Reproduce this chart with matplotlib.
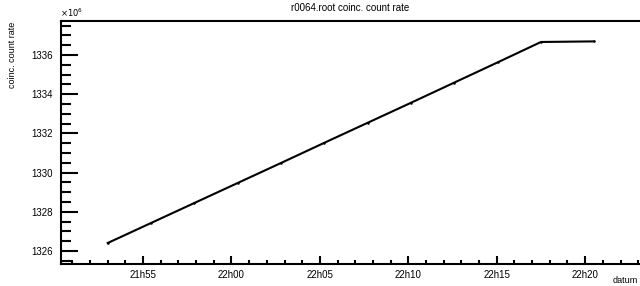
import matplotlib
matplotlib.use("Agg")
import matplotlib.pyplot as plt
from matplotlib.ticker import MultipleLocator, FuncFormatter

plt.rcParams['font.family'] = ['Liberation Sans', 'DejaVu Sans']

# datos (valores en unidades de 10^6)
tiempos = ["21:53:00", "21:55:27", "21:57:54", "22:00:21", "22:02:48", "22:05:15",
           "22:07:42", "22:10:09", "22:12:36", "22:15:03", "22:17:30", "22:20:30"]
tasa = [1326.41, 1327.43, 1328.45, 1329.47, 1330.49, 1331.52,
        1332.54, 1333.56, 1334.59, 1335.62, 1336.66, 1336.69]


def a_minutos(t):
    h, m, s = t.split(":")
    return int(h) * 60 + int(m) + int(s) / 60.0


x = [a_minutos(t) for t in tiempos]

fig = plt.figure(figsize=(6.4, 2.86), dpi=100)
ax = fig.add_axes([0.0953, 0.0769, 0.9047, 0.8497])

ax.plot(x, tasa, color='black', lw=1.5, marker='o', ms=0.8)

ax.set_xlim(21 * 60 + 50.36, 22 * 60 + 23.1)
ax.set_ylim(1325.34, 1337.73)

ax.xaxis.set_major_locator(MultipleLocator(5))
ax.xaxis.set_minor_locator(MultipleLocator(1))
ax.yaxis.set_major_locator(MultipleLocator(2))
ax.yaxis.set_minor_locator(MultipleLocator(0.5))
ax.xaxis.set_major_formatter(FuncFormatter(lambda v, p: "%dh%02d" % (int(round(v)) // 60, int(round(v)) % 60)))
ax.yaxis.set_major_formatter(FuncFormatter(lambda v, p: "%d" % round(v)))

ax.tick_params(axis='y', which='major', direction='in', length=12, width=1.5, labelsize=7, pad=6)
ax.tick_params(axis='y', which='minor', direction='in', length=7, width=1.5)
ax.tick_params(axis='x', which='major', direction='in', length=6, width=1.5, labelsize=7, pad=4)
ax.tick_params(axis='x', which='minor', direction='in', length=3, width=1.5)

for lado in ['left', 'top', 'bottom']:
    ax.spines[lado].set_linewidth(1.5)
ax.spines['right'].set_visible(False)

fig.text(0.547, 0.99, "r0064.root coinc. count rate", ha='center', va='top', fontsize=7)
fig.text(0.093, 0.935, r"$\times10^{6}$", ha='left', va='bottom', fontsize=6)
fig.text(0.02, 0.925, "coinc. count rate", rotation=90, ha='center', va='top', fontsize=6.5)
fig.text(0.997, 0.005, "datum", ha='right', va='bottom', fontsize=6.5)

plt.savefig("out.png", dpi=100)
